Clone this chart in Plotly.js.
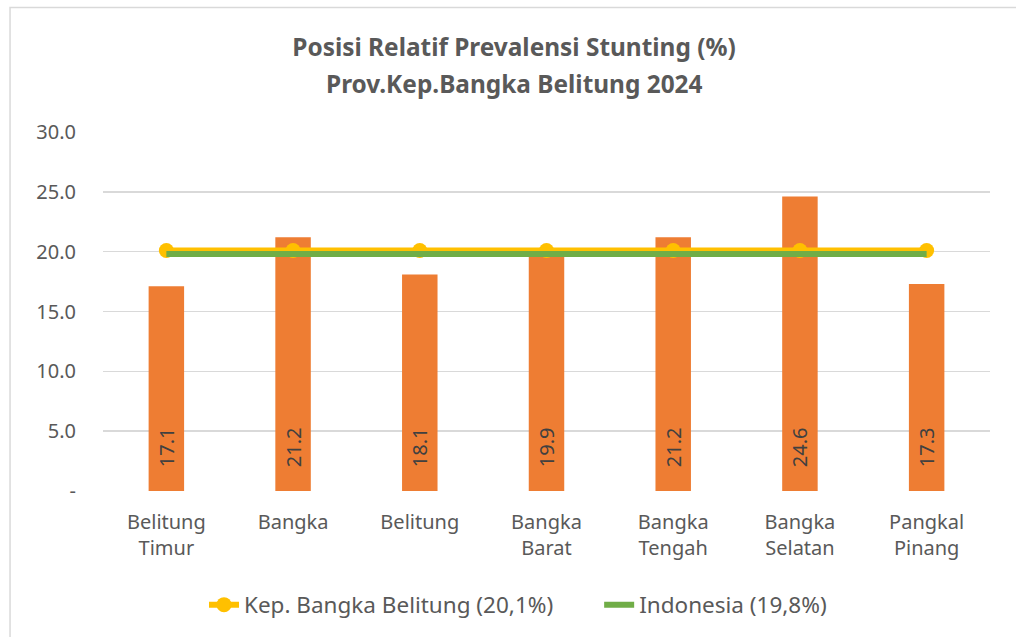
<!DOCTYPE html>
<html><head><meta charset="utf-8">
<script src="https://cdn.plot.ly/plotly-3.0.1.min.js"></script>
<style>html,body{margin:0;padding:0;background:#fff}#chart{width:1016px;height:637px}</style>
</head><body><div id="chart"></div>
<script>
const categories = ["Belitung<br>Timur","Bangka","Belitung","Bangka<br>Barat","Bangka<br>Tengah","Bangka<br>Selatan","Pangkal<br>Pinang"];
const prevalence = [17.1, 21.2, 18.1, 19.9, 21.2, 24.6, 17.3];
const provinceValue = [20.1, 20.1, 20.1, 20.1, 20.1, 20.1, 20.1];
const indonesiaValue = [19.8, 19.8, 19.8, 19.8, 19.8, 19.8, 19.8];
const yTickVals = [0, 5, 10, 15, 20, 25, 30];
const yTickText = ["-", "5.0", "10.0", "15.0", "20.0", "25.0", "30.0"];
const titleLine1 = "Posisi Relatif Prevalensi Stunting (%)";
const titleLine2 = "Prov.Kep.Bangka Belitung 2024";
const seriesNames = ["Kep. Bangka Belitung (20,1%)", "Indonesia (19,8%)"];

const font = "Noto Sans, Open Sans, sans-serif";
const pad = "\u00A0\u00A0\u00A0\u00A0";
const gap = "\u00A0".repeat(7);
const traces = [
  {type:"bar", x:categories, y:prevalence, showlegend:false,
   marker:{color:"#EE7D33"}, width:0.28,
   text:prevalence.map(v=>pad + v.toFixed(1)), textposition:"inside", insidetextanchor:"start",
   textangle:-90, textfont:{family:font, size:20, color:"#404040"}, constraintext:"none", hoverinfo:"x+y"},
  {type:"scatter", mode:"lines+markers", x:categories, y:provinceValue, name:seriesNames[0] + gap,
   line:{color:"#FFC000", width:6}, marker:{color:"#FFC000", size:15}},
  {type:"scatter", mode:"lines", x:categories, y:indonesiaValue, name:seriesNames[1],
   line:{color:"#70AD47", width:6}}
];
const layout = {
  width:1016, height:637, paper_bgcolor:"#fff", plot_bgcolor:"#fff",
  margin:{l:103, r:26, t:132, b:145},
  title:{text:"<b>" + titleLine1 + "</b>",
    font:{family:font, size:24.4, color:"#595959"}, x:514/1016, xanchor:"center", y:1-47/637, yanchor:"middle"},
  annotations:[{text:"<b>" + titleLine2 + "</b>", xref:"paper", yref:"paper", x:(514-103)/887, xanchor:"center",
    y:(492-83)/360, yanchor:"middle", showarrow:false, font:{family:font, size:24.4, color:"#595959"}}],
  xaxis:{showgrid:false, zeroline:false, showline:false, ticks:"", ticklabelstandoff:17,
    tickfont:{family:font, size:20, color:"#595959"}},
  yaxis:{range:[0,30], tickvals:yTickVals, ticktext:yTickText, showgrid:true, gridcolor:"#D9D9D9", gridwidth:1.5,
    zeroline:false, showline:false, ticks:"", ticklabelstandoff:26,
    tickfont:{family:font, size:20, color:"#595959"}},
  legend:{orientation:"h", x:(518-103)/887, xanchor:"center", y:(492-605)/360, yanchor:"middle",
    font:{family:font, size:22.5, color:"#595959"}, tracegroupgap:0},
  shapes:[{type:"rect", xref:"paper", yref:"paper", x0:-0.1048, x1:1.06, y0:-0.45, y1:1.347,
    line:{color:"#D9D9D9", width:1.5}, fillcolor:"rgba(0,0,0,0)", layer:"below"}]
};
Plotly.newPlot("chart", traces, layout, {displayModeBar:false, staticPlot:true});
</script></body></html>
